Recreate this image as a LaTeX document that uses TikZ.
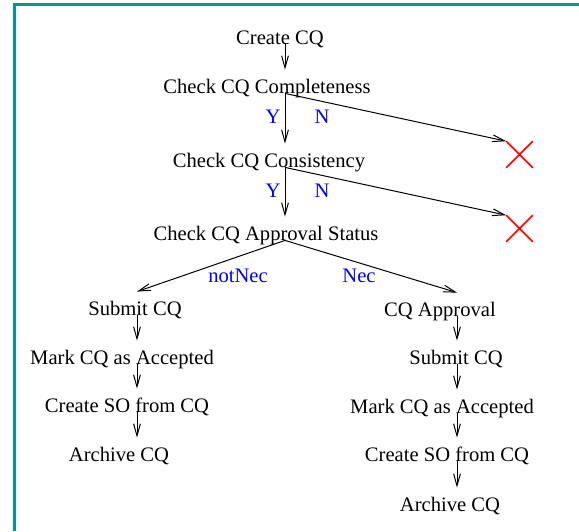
\documentclass[tikz,border=0pt]{standalone}
\usepackage{fontspec}
\setmainfont{Liberation Serif}
\usetikzlibrary{arrows.meta,shapes.misc}
\definecolor{framecol}{RGB}{0,150,150}
\newcommand\stepfont{\fontsize{10.3}{12}\selectfont}

\begin{document}
\begin{tikzpicture}[x=0.5pt, y=-0.5pt,
	stepbox/.style={inner sep=0pt, minimum width=0pt, minimum height=11.5pt},
	lbl/.style={font=\stepfont, inner sep=0pt, text height=7pt, text depth=2pt, yshift=-3.25pt},
	yn/.style={font=\stepfont, text=blue, inner sep=0pt, text height=7pt, text depth=2pt},
	arr/.style={-{Straight Barb[length=6pt, width=3.4pt]}, line width=0.5pt},
	nogo/.style={draw=red, cross out, line width=0.8pt, minimum size=12.5pt, inner sep=0pt}]
	\useasboundingbox (0,0) rectangle (579,531);
	\draw[framecol, line width=1.1pt] (14.5,531) -- (14.5,4.5) -- (579,4.5);
	% main line
	\node[stepbox, label={[lbl, xshift=-2.5pt]center:Create CQ}] (create) at (285,32.5) {};
	\node[stepbox, label={[lbl, xshift=-9pt]center:Check CQ Completeness}] (complete) at (285,81.5) {};
	\node[stepbox, label={[lbl, xshift=-8pt]center:Check CQ Consistency}] (consist) at (285,155.5) {};
	\node[stepbox, label={[lbl, xshift=-9.5pt]center:Check CQ Approval Status}] (status) at (285,228.5) {};
	\node[nogo] (x1) at (519.5,154.5) {};
	\node[nogo] (x2) at (519.5,228.5) {};
	% not necessary
	\node[stepbox, label={[lbl, xshift=-1pt]center:Submit CQ}] (lsubmit) at (137,303.5) {};
	\node[stepbox, label={[lbl, xshift=-7.5pt]center:Mark CQ as Accepted}] (lmark) at (137,352.5) {};
	\node[stepbox, label={[lbl, xshift=-5pt]center:Create SO from CQ}] (lso) at (137,400.5) {};
	\node[stepbox, label={[lbl, xshift=-9pt]center:Archive CQ}] (larch) at (137,449.5) {};
	% necessary
	\node[stepbox, label={[lbl, xshift=-8.5pt]center:CQ Approval}] (approve) at (457,304.5) {};
	\node[stepbox, label={[lbl, xshift=-0.5pt]center:Submit CQ}] (rsubmit) at (457,352.5) {};
	\node[stepbox, label={[lbl, xshift=-7.5pt]center:Mark CQ as Accepted}] (rmark) at (457,401.5) {};
	\node[stepbox, label={[lbl, xshift=-5pt]center:Create SO from CQ}] (rso) at (457,449.5) {};
	\node[stepbox, label={[lbl, xshift=-3.5pt]center:Archive CQ}] (rarch) at (457,499.5) {};
	\node[yn] (y1) at (273,118) {Y};
	\node[yn] (n1) at (322,118) {N};
	\node[yn] (y2) at (273,192) {Y};
	\node[yn] (n2) at (322,192) {N};
	\node[yn] (notnec) at (238,277) {notNec};
	\node[yn] (nec) at (359,277) {Nec};
	\draw[arr] (create.south) -- (complete.north);
	\draw[arr] (complete.south) -- (consist.north);
	\draw[arr] (complete.south) -- (x1.north west);
	\draw[arr] (consist.south) -- (status.north);
	\draw[arr] (consist.south) -- (x2.north west);
	\draw[arr] (status.south) -- (lsubmit.north);
	\draw[arr] (status.south) -- (approve.north);
	\draw[arr] (lsubmit.south) -- (lmark.north);
	\draw[arr] (lmark.south) -- (lso.north);
	\draw[arr] (lso.south) -- (larch.north);
	\draw[arr] (approve.south) -- (rsubmit.north);
	\draw[arr] (rsubmit.south) -- (rmark.north);
	\draw[arr] (rmark.south) -- (rso.north);
	\draw[arr] (rso.south) -- (rarch.north);
\end{tikzpicture}
\end{document}
